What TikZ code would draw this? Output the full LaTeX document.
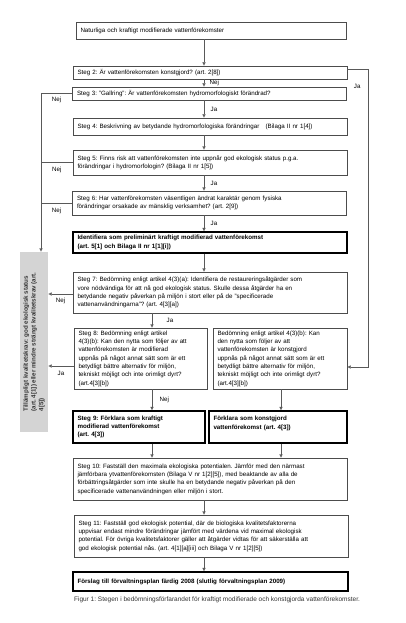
\documentclass[tikz,border=0pt]{standalone}
\usepackage{fontspec}
\setmainfont{Liberation Sans}
\frenchspacing
\usetikzlibrary{arrows.meta,positioning,calc}
\tikzset{
  stepbox/.style={draw=black!70, rectangle, fill=white, align=left, text width=265pt, inner xsep=4.5pt, inner ysep=2pt, font=\fontsize{6.2}{8.3}\selectfont},
  keybox/.style={stepbox, draw=black, line width=1.3pt, font=\fontsize{6.2}{8.3}\selectfont\bfseries},
  qualbox/.style={rectangle, fill=black!17, minimum width=28pt, minimum height=180pt, inner sep=0pt},
  qualtext/.style={rotate=90, align=left, inner sep=0pt, font=\fontsize{6.2}{7.8}\selectfont\bfseries, text=black!80},
  arrow/.style={-{Latex[length=3.5pt,width=3.5pt]}, draw=black!65},
  plainline/.style={draw=black!65},
  lbl/.style={font=\fontsize{6.2}{7}\selectfont, inner sep=1.5pt},
  caption/.style={font=\fontsize{6.5}{7}\selectfont, text=black!80}
}
\begin{document}
\begin{tikzpicture}[x=1pt,y=-1pt]
  \useasboundingbox (0,0) rectangle (405,623);
  \coordinate (spine) at (204,0);
  \coordinate (lft) at (41,0);
  \coordinate (colA) at (152,0);
  \coordinate (colB) at (281,0);
  \node[stepbox,text width=261pt,minimum height=17pt] (start) at (211,30.5) {Naturliga och kraftigt modifierade vattenförekomster};
  \node[stepbox,minimum height=13pt] (s2) at (210,72.5) {Steg 2: Är vattenförekomsten konstgjord? (art. 2[8])};
  \node[stepbox,minimum height=13pt] (s3) at (209.5,93.5) {Steg 3: "Gallring": Är vattenförekomsten hydromorfologiskt förändrad?};
  \node[stepbox,minimum height=17pt] (s4) at (210,126.5) {Steg 4: Beskrivning av betydande hydromorfologiska förändringar\quad(Bilaga II nr 1[4])};
  \node[stepbox,minimum height=25pt] (s5) at (210,162.5) {Steg 5: Finns risk att vattenförekomsten inte uppnår god ekologisk status p.g.a.\\förändringar i hydromorfologin? (Bilaga II nr 1[5])};
  \node[stepbox,minimum height=24pt] (s6) at (209.5,203) {Steg 6: Har vattenförekomsten väsentligen ändrat karaktär genom fysiska\\förändringar orsakade av mänsklig verksamhet? (art. 2[9])};
  \node[keybox,minimum height=21pt] (ident) at (210,242.5) {Identifiera som preliminärt kraftigt modifierad vattenförekomst\\(art. 5[1] och Bilaga II nr 1[1][i])};
  \node[stepbox,minimum height=41pt] (s7) at (210,292.5) {Steg 7: Bedömning enligt artikel 4(3)(a): Identifiera de restaureringsåtgärder som\\vore nödvändiga för att nå god ekologisk status. Skulle dessa åtgärder ha en\\betydande negativ påverkan på miljön i stort eller på de "specificerade\\vattenanvändningarna"? (art. 4[3][a])};
  \node[stepbox,text width=124pt,minimum height=61pt] (s8) at (140.5,358.5) {Steg 8: Bedömning enligt artikel\\4(3)(b): Kan den nytta som följer av att\\vattenförekomsten är modifierad\\uppnås på något annat sätt som är ett\\betydligt bättre alternativ för miljön,\\tekniskt möjligt och inte orimligt dyrt?\\(art.4[3][b])};
  \node[stepbox,text width=125pt,minimum height=61pt] (s8b) at (280,358.5) {Bedömning enligt artikel 4(3)(b): Kan\\den nytta som följer av att\\vattenförekomsten är konstgjord\\uppnås på något annat sätt som är ett\\betydligt bättre alternativ för miljön,\\tekniskt möjligt och inte orimligt dyrt?\\(art.4[3][b])};
  \node[keybox,text width=123pt,minimum height=32pt] (s9) at (139,427) {Steg 9: Förklara som kraftigt\\modifierad vattenförekomst\\(art. 4[3])};
  \node[keybox,text width=129pt,minimum height=32pt] (s9b) at (278,427) {Förklara som konstgjord\\vattenförekomst (art. 4[3])\\\mbox{}};
  \node[stepbox,minimum height=42pt] (s10) at (210,479) {Steg 10: Fastställ den maximala ekologiska potentialen. Jämför med den närmast\\jämförbara ytvattenförekomsten (Bilaga V nr 1[2][5]), med beaktande av alla de\\förbättringsåtgärder som inte skulle ha en betydande negativ påverkan på den\\specificerade vattenanvändningen eller miljön i stort.};
  \node[stepbox,minimum height=42pt] (s11) at (211,536) {Steg 11: Fastställ god ekologisk potential, där de biologiska kvalitetsfaktorerna\\uppvisar endast mindre förändringar jämfört med värdena vid maximal ekologisk\\potential. För övriga kvalitetsfaktorer gäller att åtgärder vidtas för att säkerställa att\\god ekologisk potential nås. (art. 4[1][a][iii] och Bilaga V nr 1[2][5])};
  \node[keybox,text width=266pt,minimum height=19pt] (final) at (210.5,581.5) {Förslag till förvaltningsplan färdig 2008 (slutlig förvaltningsplan 2009)};
  \node[qualbox] (qual) at (34,342) {};
  \node[qualtext] (qualtxt) at (qual.center) {Tillämpligt kvalitetskrav: god ekologisk status\\(art. 4[1]) eller mindre strängt kvalitetskrav (art.\\4[5])};
  \node[caption] (cap) at (217,600) {Figur 1: Stegen i bedömningsförfarandet för kraftigt modifierade och konstgjorda vattenförekomster.};
  \draw[arrow] (start.south -| spine) -- (s2.north -| spine);
  \draw[arrow] (s2.south -| spine) -- node[lbl,right,xshift=4pt]{Nej} (s3.north -| spine);
  \draw[arrow] (s3.south -| spine) -- node[lbl,right,xshift=5pt]{Ja} (s4.north -| spine);
  \draw[arrow] (s4.south -| spine) -- (s5.north -| spine);
  \draw[arrow] (s5.south -| spine) -- node[lbl,right,xshift=5pt]{Ja} (s6.north -| spine);
  \draw[arrow] (s6.south -| spine) -- node[lbl,right,xshift=5pt]{Ja} (ident.north -| spine);
  \draw[arrow] (ident.south -| spine) -- (s7.north -| spine);
  \draw[arrow] (s7.south -| colA) -- node[lbl,right,xshift=13pt]{Ja} (s8.north -| colA);
  \draw[arrow] (s8.south -| colA) -- node[lbl,right,xshift=6pt]{Nej} (s9.north -| colA);
  \draw[arrow] (s8b.south -| colB) -- (s9b.north -| colB);
  \draw[arrow] (s9.south -| colA) -- (s10.north -| colA);
  \draw[arrow] (s9b.south -| colB) -- (s10.north -| colB);
  \draw[arrow] (s10.south -| spine) -- (s11.north -| spine);
  \draw[arrow] (s11.south -| spine) -- (final.north -| spine);
  \draw[arrow] ([yshift=3.5pt]s2.east) -- ++(21,0) |- node[lbl,pos=.03,left,xshift=-6pt]{Ja} ([yshift=-8.5pt]s8b.east);
  \draw[arrow] (s3.west) -| node[lbl,pos=.25,below,yshift=-2pt]{Nej} (qual.north -| lft);
  \draw[plainline] (s5.west) -- node[lbl,below,yshift=-3pt]{Nej} (s5.west -| lft);
  \draw[plainline] (s6.west) -- node[lbl,below,yshift=-3pt]{Nej} (s6.west -| lft);
  \draw[arrow] ([yshift=-1.5pt]s7.west) -- node[lbl,below,yshift=-2pt]{Nej} ([yshift=-1.5pt]s7.west -| qual.east);
  \draw[arrow] ([yshift=-7.5pt]s8.west) -- node[lbl,below,yshift=-4pt]{Ja} ([yshift=-7.5pt]s8.west -| qual.east);
\end{tikzpicture}
\end{document}
